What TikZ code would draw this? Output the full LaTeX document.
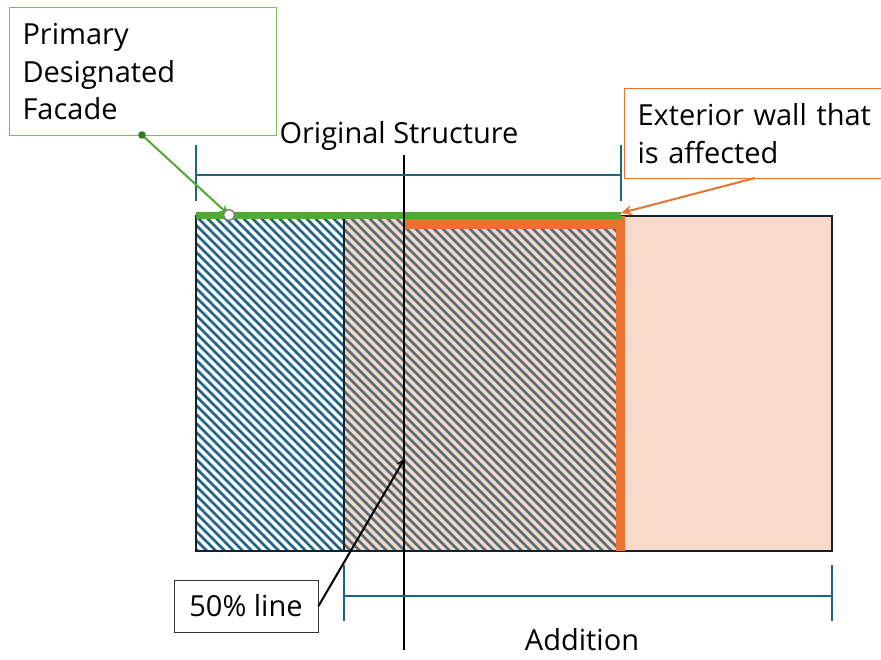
\documentclass[tikz,border=0pt]{standalone}
\usepackage{fontspec}
\setmainfont{Open Sans}
\usetikzlibrary{arrows.meta}
\definecolor{hblue}{RGB}{30,100,135}
\definecolor{peach}{RGB}{248,218,203}
\definecolor{hgray}{RGB}{85,110,120}
\definecolor{wgreen}{RGB}{80,170,50}
\definecolor{lgreen}{RGB}{120,190,90}
\definecolor{orng}{RGB}{235,115,50}
\definecolor{dark}{RGB}{15,35,45}
\tikzset{
  lbl/.style={font=\fontsize{29}{37.5}\selectfont, inner sep=0pt},
  callout/.style={lbl, anchor=north west, align=left, inner xsep=13pt},
  dimline/.style={hblue, line width=2pt},
  hatchline/.style={line width=2.8pt},
}
\begin{document}
\begin{tikzpicture}[x=1pt,y=-1pt]
\useasboundingbox (0,0) rectangle (881,659);
% fills
\fill[peach] (344,216) rectangle (832,551);
% hatches
\begin{scope}
\clip (196,216) rectangle (344,551);
\foreach \i in {-342,-333,...,160} \draw[hatchline,hblue] (196+\i,216) -- ++(345,345);
\end{scope}
\begin{scope}
\clip (344,216) rectangle (620,551);
\foreach \i in {-342,-333,...,430} \draw[hatchline,hgray] (196+\i,216) -- ++(345,345);
\end{scope}
% outline and divider
\draw[dark, line width=2.2pt] (196,216) rectangle (832,551);
\draw[dark, line width=2.2pt] (344,216) -- (344,551);
% orange walls
\fill[orng] (616,216) rectangle (625,551);
\fill[orng] (404,219) rectangle (625,229);
% green facade
\fill[wgreen] (196,212) rectangle (621,219);
% 50% line
\coordinate (ftop) at (404,155);
\coordinate (fbot) at (404,650);
\draw[black, line width=2.2pt] (ftop) -- (fbot);
% dimension original
\coordinate (o1) at (196,175);
\coordinate (o2) at (621,175);
\draw[dimline] (o1) -- (o2);
\draw[dimline] (196,145) -- (196,201);
\draw[dimline] (621,145) -- (621,201);
\node[lbl] (origlbl) at (399,136) {Original Structure};
% dimension addition
\coordinate (a1) at (344,596);
\coordinate (a2) at (832,596);
\draw[dimline] (a1) -- (a2);
\draw[dimline] (344,565) -- (344,621);
\draw[dimline] (832,565) -- (832,621);
\node[lbl] (addlbl) at (582,640) {Addition};
% callout boxes
\node[callout, draw=lgreen, line width=1pt, minimum width=267pt, minimum height=128pt, text width=241pt] (pdf) at (9,7) {Primary\\Designated\\Facade};
\node[callout, draw=orng, line width=1pt, minimum width=290pt, minimum height=90pt, text width=264pt] (ext) at (624,88) {Exterior wall that\\is affected};
\node[lbl, draw=black!80, line width=1pt, minimum width=144pt, minimum height=52pt] (fifty) at (246,606) {50\% line};
% connectors
\coordinate (pdfpt) at (142,135);
\coordinate (facpt) at (229,215);
\draw[wgreen, line width=2pt, -{Stealth[length=10pt,width=9pt]}] (pdfpt) -- (facpt);
\fill[wgreen!70!black] (pdfpt) circle (3.8);
\draw[gray, fill=white, line width=1.4pt] (facpt) circle (5.5);
\coordinate (extpt) at (755,178);
\coordinate (wallpt) at (621,213);
\draw[orng, line width=2pt, -{Stealth[length=11pt,width=10pt]}] (extpt) -- (wallpt);
\coordinate (fiftypt) at (405,458);
\draw[black, line width=2pt, -{Stealth[length=9pt,width=8pt]}] (fifty.east) -- (fiftypt);
\end{tikzpicture}
\end{document}
